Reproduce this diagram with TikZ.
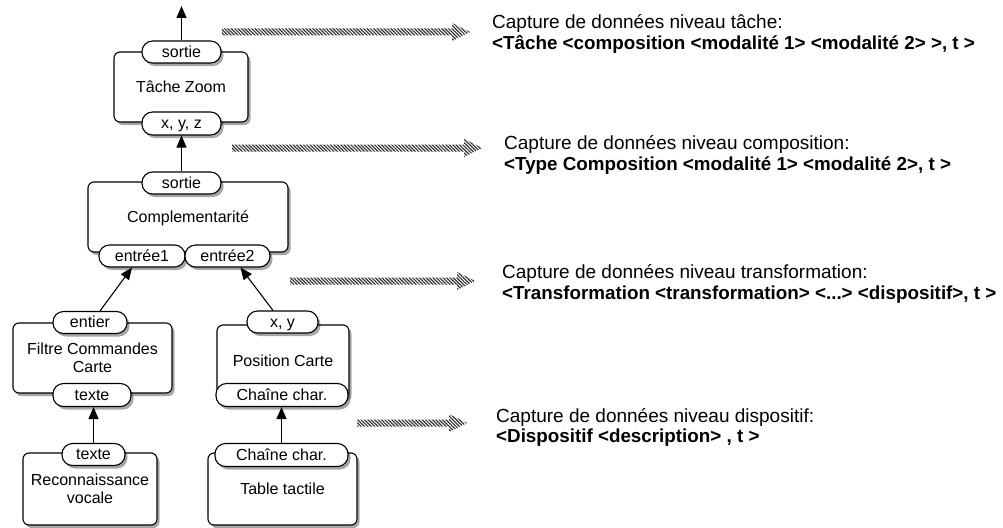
\documentclass[tikz,border=0pt]{standalone}
\usepackage{fontspec}
\setmainfont{Liberation Sans}
\usetikzlibrary{arrows.meta,shadows,patterns.meta,calc}
\newcommand\hatchArrow[3]{%
  \coordinate (#1s) at #2;
  \coordinate (#1e) at #3;
  \path[hatch] ($(#1s)+(0,-3.5)$) -- ($(#1e)+(-18,-3.5)$) -- ($(#1e)+(-18,-9)$) -- (#1e)
    -- ($(#1e)+(-18,9)$) -- ($(#1e)+(-18,3.5)$) -- ($(#1s)+(0,3.5)$) -- cycle;}
\begin{document}
\begin{tikzpicture}[x=1pt,y=-1pt,
  shade/.style={drop shadow={shadow xshift=2.5pt,shadow yshift=-3pt,opacity=0.35,fill=black}},
  box/.style={draw,line width=1.1pt,rounded corners=6pt,fill=white,align=center,
    inner sep=0pt,font=\fontsize{16}{18}\selectfont,shade},
  oneline/.style={text height=12pt,text depth=1.2pt},
  port/.style={draw,line width=1.1pt,rounded corners=10.5pt,fill=white,minimum height=22pt,
    inner sep=0pt,font=\fontsize{16}{18}\selectfont,oneline,shade},
  flow/.style={line width=1.1pt,-{Triangle[length=12pt,width=10pt]}},
  hatch/.style={pattern={Lines[angle=-45,distance=2.4pt,line width=1.2pt]},pattern color=black!80},
  caption/.style={anchor=base west,inner sep=0pt,font=\fontsize{19}{21}\selectfont},
  capbold/.style={caption,font=\fontsize{18.8}{21}\selectfont\bfseries}]
\useasboundingbox (0,0) rectangle (1003,527);

% main boxes
\node[box,oneline,minimum width=134pt,minimum height=70pt] (tz) at (181,87) {Tâche Zoom};
\node[box,oneline,minimum width=200pt,minimum height=70pt] (comp) at (188,217) {Complementarité};
\node[box,minimum width=159pt,minimum height=70pt] (filtre) at (92.5,358) {Filtre Commandes\\Carte};
\node[box,oneline,minimum width=132pt,minimum height=73pt] (pos) at (283,361.5) {Position Carte};
\node[box,minimum width=134pt,minimum height=72pt] (reco) at (90,489) {Reconnaissance\\vocale};
\node[box,oneline,minimum width=149pt,minimum height=72pt] (table) at (282.5,489) {Table tactile};

% ports
\node[port,minimum width=79pt] (tzout) at (181.5,52) {sortie};
\node[port,minimum width=79pt,minimum height=23pt] (tzin) at (181.5,123.5) {x, y, z};
\node[port,minimum width=79pt] (compout) at (181.5,183) {sortie};
\node[port,minimum width=86pt] (ent1) at (142,256) {entrée1};
\node[port,minimum width=85pt] (ent2) at (227.5,256) {entrée2};
\node[port,minimum width=74pt] (filtreout) at (90,322.5) {entier};
\node[port,minimum width=78pt,minimum height=23pt] (filtrein) at (92,395) {texte};
\node[port,minimum width=71pt] (posout) at (282.5,322) {x, y};
\node[port,minimum width=132pt,minimum height=23pt] (posin) at (282,395) {Chaîne char.};
\node[port,minimum width=63pt] (recoout) at (93.5,454.5) {texte};
\node[port,minimum width=133pt,minimum height=23pt] (tableout) at (281.5,455) {Chaîne char.};

% connectors
\coordinate (topend) at (181.5,6);
\draw[flow] (tzout.north) -- (topend);
\draw[flow] (compout.north) -- (tzin.south);
\draw[flow] ([xshift=10pt]filtreout.north) -- ([xshift=-10pt]ent1.south);
\draw[flow] ([xshift=-9.5pt]posout.north) -- ([xshift=13pt]ent2.south);
\draw[flow] (recoout.north) -- (recoout.north |- filtrein.south);
\draw[flow] (tableout.north) -- (tableout.north |- posin.south);

% hatched arrows
\hatchArrow{ha}{(222,32)}{(470,32)}
\hatchArrow{hb}{(232,148)}{(482,148)}
\hatchArrow{hc}{(290,281)}{(475,281)}
\hatchArrow{hd}{(357,423)}{(467,423)}

% captions
\node[caption] (t1a) at (492,28.5) {Capture de données niveau tâche:};
\node[capbold] (t1b) at (492,49.5) {<Tâche <composition <modalité 1> <modalité 2> >, t >};
\node[caption] (t2a) at (504,149.5) {Capture de données niveau composition:};
\node[capbold] (t2b) at (504,170.5) {<Type Composition <modalité 1> <modalité 2>, t >};
\node[caption] (t3a) at (502,278.5) {Capture de données niveau transformation:};
\node[capbold] (t3b) at (502,299) {<Transformation <transformation> <...> <dispositif>, t >};
\node[caption] (t4a) at (496,422) {Capture de données niveau dispositif:};
\node[capbold] (t4b) at (496,442.5) {<Dispositif <description> , t >};
\end{tikzpicture}
\end{document}
